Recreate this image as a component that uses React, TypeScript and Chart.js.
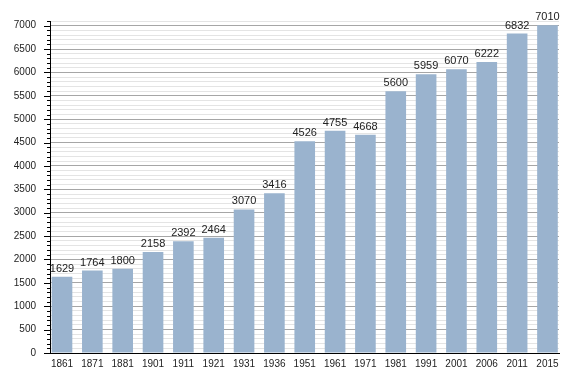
import React, { useEffect, useRef } from "react";
import { Chart, registerables } from "chart.js";

Chart.register(...registerables);

const years = ["1861","1871","1881","1901","1911","1921","1931","1936","1951","1961","1971","1981","1991","2001","2006","2011","2015"];
const population = [1629,1764,1800,2158,2392,2464,3070,3416,4526,4755,4668,5600,5959,6070,6222,6832,7010];
const yMax = 7100;
const yMinorStep = 100;
const yMajorStep = 500;

const FONT = "'Liberation Sans', Arial, sans-serif";

const valueLabels = {
  id: "valueLabels",
  afterDatasetsDraw(chart: any) {
    const ctx = chart.ctx;
    const meta = chart.getDatasetMeta(0);
    ctx.save();
    ctx.font = `11px ${FONT}`;
    ctx.fillStyle = "#222";
    ctx.textAlign = "center";
    ctx.textBaseline = "alphabetic";
    meta.data.forEach((el: any, i: number) => {
      ctx.fillText(String(population[i]), el.x, el.y - 5);
    });
    ctx.restore();
  },
};

const yTicks = {
  id: "yTicks",
  afterDraw(chart: any) {
    const ctx = chart.ctx;
    const y = chart.scales.y;
    const x0 = chart.chartArea.left;
    ctx.save();
    ctx.strokeStyle = "#000";
    ctx.lineWidth = 1;
    for (let v = 0; v <= yMax; v += yMinorStep) {
      const py = Math.round(y.getPixelForValue(v)) + 0.5;
      const len = v % yMajorStep === 0 ? 6 : 3;
      ctx.beginPath();
      ctx.moveTo(x0 - len, py);
      ctx.lineTo(x0, py);
      ctx.stroke();
    }
    ctx.restore();
  },
};

export default function App() {
  const ref = useRef<HTMLCanvasElement>(null);
  useEffect(() => {
    if (!ref.current) return;
    const chart = new Chart(ref.current, {
      type: "bar",
      data: {
        datasets: [
          {
            data: population.map((v, i) => ({ x: i, y: v })),
            backgroundColor: "#9ab3ce",
            borderWidth: 0,
            barPercentage: 0.68,
            categoryPercentage: 1,
          },
        ],
      },
      options: {
        responsive: false,
        animation: false,
        layout: { padding: { left: 0, right: 29, top: 21, bottom: 0 } },
        plugins: { legend: { display: false }, tooltip: { enabled: false } },
        scales: {
          x: {
            type: "linear",
            offset: false,
            min: -0.3955,
            max: 16.38,
            afterFit: (s: any) => { s.height = 20; },
            grid: { display: false, drawTicks: false },
            border: { display: true, color: "#000", width: 1 },
            ticks: {
              stepSize: 1,
              includeBounds: false,
              autoSkip: false,
              maxRotation: 0,
              padding: 5,
              color: "#222",
              font: { family: FONT, size: 10 },
              callback: (v: any) => (Number.isInteger(v) ? years[v] ?? "" : ""),
            },
          },
          y: {
            min: 0,
            max: yMax,
            afterFit: (s: any) => { s.width = 50; },
            grid: {
              drawTicks: false,
              color: (c: any) => (c.tick && c.tick.value % yMajorStep === 0 ? "#a6a6a6" : "#e4e4e4"),
              lineWidth: 1,
            },
            border: { display: true, color: "#000", width: 1 },
            ticks: {
              stepSize: yMinorStep,
              autoSkip: false,
              padding: 14,
              color: "#222",
              font: { family: FONT, size: 10 },
              callback: (v: any) => (v % yMajorStep === 0 && v <= 7000 ? String(v) : ""),
            },
          },
        },
      },
      plugins: [valueLabels, yTicks],
    } as any);
    return () => chart.destroy();
  }, []);
  return (
    <div style={{ position: "fixed", left: 0, top: 0, width: 588, height: 373, background: "#fff" }}>
      <canvas ref={ref} width={588} height={373} />
    </div>
  );
}
